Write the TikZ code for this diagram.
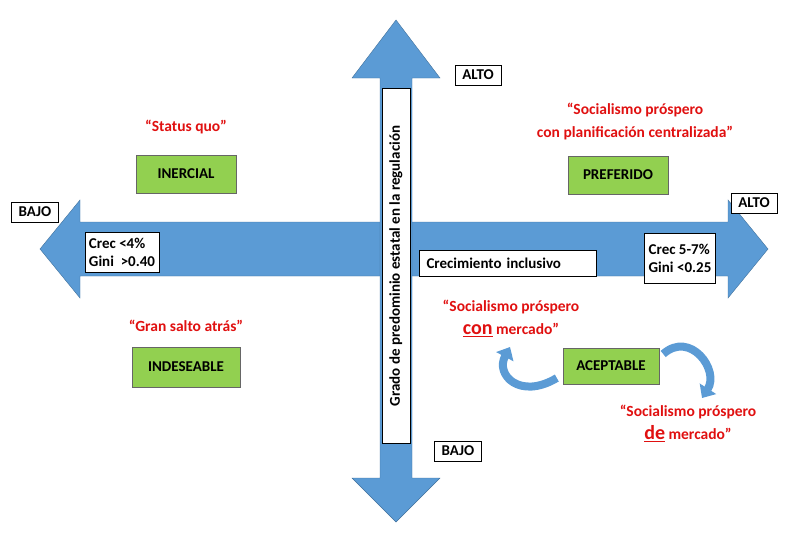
\documentclass[tikz,border=0pt]{standalone}
\usepackage{fontspec}
\setmainfont{Carlito}
\usetikzlibrary{arrows.meta}
\definecolor{ab}{HTML}{5B9BD5}
\definecolor{abd}{HTML}{41719C}
\definecolor{gr}{HTML}{92D050}
\definecolor{rd}{HTML}{E01010}
\begin{document}
\begin{tikzpicture}[x=1pt,y=-1pt,font=\bfseries\fontsize{15}{18}\selectfont,
 wbox/.style={draw=black,fill=white,thin,inner xsep=7pt,inner ysep=5pt},
 gbox/.style={draw=black!60,fill=gr,minimum width=100pt,minimum height=38pt},
 rq/.style={text=rd,align=center,font=\bfseries\fontsize{15.5}{23}\selectfont},
 ca/.style={line width=8pt,-{Triangle[length=11pt,width=19pt]},draw=ab}]
\useasboundingbox (0,0) rectangle (791,536);
\fill[ab,draw=abd,thin] (40,249) -- (80,200) -- (80,222) -- (728,222) -- (728,200) -- (768,249) -- (728,298) -- (728,276) -- (80,276) -- (80,298) -- cycle;
\fill[ab,draw=abd,thin] (396,20) -- (440,78) -- (412,78) -- (412,478) -- (440,478) -- (396,522) -- (352,478) -- (380,478) -- (380,78) -- (352,78) -- cycle;
\node[wbox,rotate=90,minimum width=355pt,minimum height=28pt,inner ysep=2pt] (vt) at (396,266) {Grado de predominio estatal en la regulación};
\node[wbox] (altoT) at (478,75) {ALTO};
\node[wbox] (bajoL) at (35,212) {BAJO};
\node[wbox] (altoR) at (754,203) {ALTO};
\node[wbox] (bajoB) at (458,451) {BAJO};
\node[rq] (sq) at (186,127) {“Status quo”};
\node[gbox] (ine) at (186,174) {INERCIAL};
\node[rq] (spc) at (635,121) {“Socialismo próspero\\con planificación centralizada”};
\node[gbox] (pre) at (618,175) {PREFERIDO};
\node[wbox,align=left,minimum height=40pt,inner xsep=4pt] (c4) at (122,252) {Crec <4\%\\Gini \ >0.40};
\node[wbox,minimum width=177pt,minimum height=26pt,align=left,text width=163pt] (ci) at (508,263) {Crecimiento inclusivo};
\node[wbox,align=left,minimum height=50pt,inner xsep=4pt] (c5) at (680,258) {Crec 5-7\%\\Gini <0.25};
\node[rq] (gsa) at (186,326) {“Gran salto atrás”};
\node[gbox,minimum width=108pt,minimum height=40pt] (ind) at (186,367) {INDESEABLE};
\node[rq] (scm) at (511,318) {“Socialismo próspero\\\underline{\fontsize{20}{23}\selectfont con} mercado”};
\node[gbox,minimum width=96pt,minimum height=36pt] (ace) at (611,366) {ACEPTABLE};
\node[rq] (sdm) at (688,423) {“Socialismo próspero\\\underline{\fontsize{20}{23}\selectfont de} mercado”};
\draw[ca] (ace.west |- 0,378) ++(-6,0) coordinate (a1) .. controls (520,400) and (495,375) .. (510,347);
\draw[ca] (ace.east |- 0,356) ++(4,-2) coordinate (a2) .. controls (690,330) and (720,370) .. (702,398);
\end{tikzpicture}
\end{document}
